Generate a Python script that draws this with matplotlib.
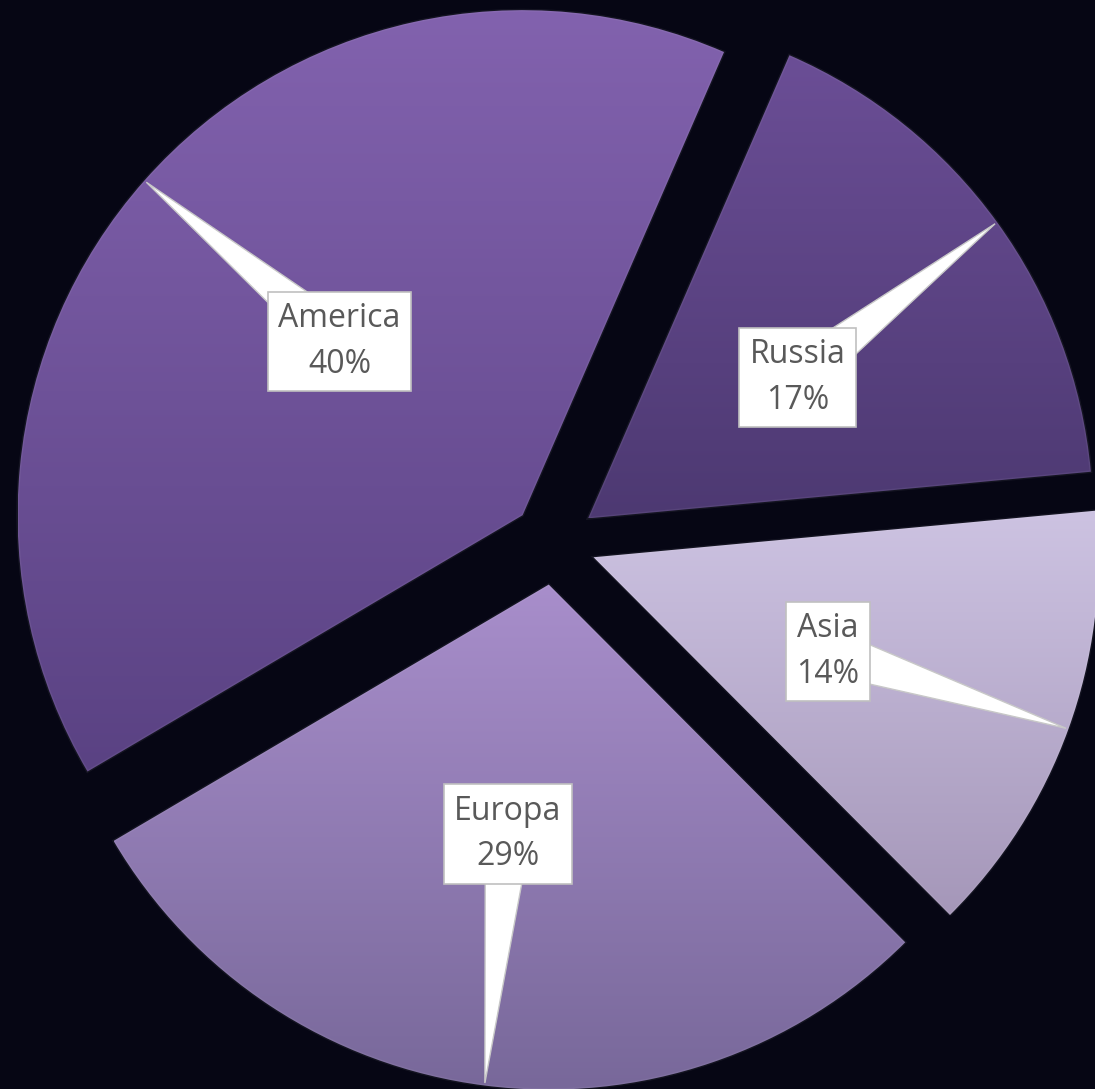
import numpy as np
import matplotlib.pyplot as plt
from matplotlib.colors import to_rgb
from matplotlib.patches import Polygon

# data
labels = ["America", "Russia", "Asia", "Europa"]
shares = [40, 17, 14, 29]
top_colors = ["#8262ae", "#6b4e96", "#cdc3e2", "#a88ecb"]
bottom_colors = ["#5a4283", "#4d3972", "#a597b9", "#78689a"]

bg = "#060614"
fig = plt.figure(figsize=(10.95, 10.89), dpi=100, facecolor=bg)
ax = fig.add_axes([0, 0, 1, 1])
ax.set_facecolor(bg)

wedges, _ = ax.pie(shares, explode=[0.083] * 4, startangle=210.5,
                   counterclock=False, radius=1,
                   wedgeprops=dict(linewidth=0))

# vertical gradient inside every slice
t = np.linspace(0, 1, 256)[:, None]
for w, c0, c1 in zip(wedges, top_colors, bottom_colors):
    ext = w.get_path().get_extents()
    grad = (1 - t) * np.array(to_rgb(c0)) + t * np.array(to_rgb(c1))
    im = ax.imshow(grad[:, None, :], extent=(ext.x0, ext.x1, ext.y0, ext.y1),
                   origin="upper", aspect="auto", zorder=1,
                   interpolation="bilinear")
    im.set_clip_path(w)
    w.set_facecolor("none")
    w.set_edgecolor((1, 1, 1, 0.06))
    w.set_linewidth(2)
    w.set_zorder(2)

# callouts
for w, lab, val in zip(wedges, labels, shares):
    mid = np.deg2rad((w.theta1 + w.theta2) / 2)
    cx, cy = w.center
    tip = np.array([cx + 0.995 * np.cos(mid), cy + 0.995 * np.sin(mid)])
    la = mid - np.deg2rad(2)
    box = np.array([cx + 0.5 * np.cos(la), cy + 0.5 * np.sin(la)])
    d = tip - box
    d = d / np.hypot(*d)
    perp = np.array([-d[1], d[0]]) * 0.045
    ax.add_patch(Polygon([box + perp, tip, box - perp], closed=True,
                         fc="white", ec="#c8c8c8", lw=1, zorder=4))
    ax.text(box[0], box[1], f"{lab}\n{val}%", ha="center", va="center",
            fontsize=23, color="#595959", family="Open Sans",
            linespacing=1.5, zorder=5,
            bbox=dict(boxstyle="square,pad=0.33", fc="white",
                      ec="#c0c0c0", lw=1.2))

ax.set_xlim(-1.097, 1.071)
ax.set_ylim(-1.081, 1.075)
ax.set_aspect("equal")
ax.axis("off")

fig.savefig("out.png", dpi=100, facecolor=bg)
